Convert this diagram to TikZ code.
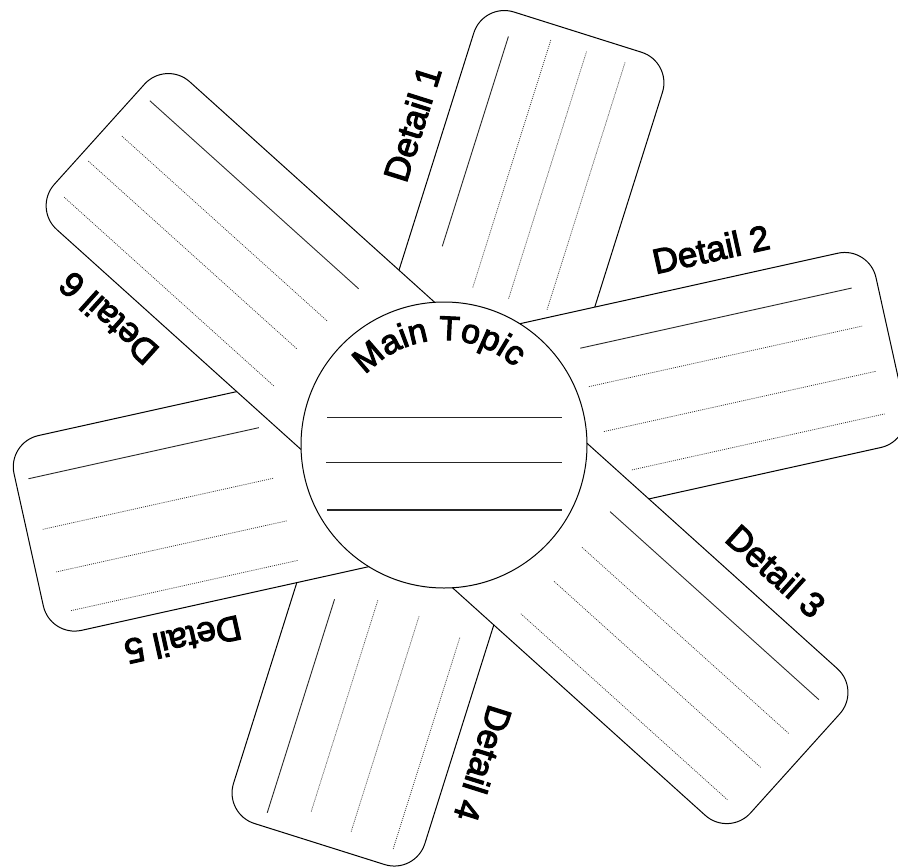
\documentclass[tikz,border=0pt]{standalone}
\usepackage{fontspec}
\setmainfont{Liberation Sans}
\newfontfamily\heavyfont[FakeBold=3]{Liberation Sans}
\usetikzlibrary{decorations.text}
\newcommand{\mtfont}{\heavyfont\fontsize{34}{40}\selectfont}
\tikzset{
  bladebox/.style={draw=black, line width=1pt, fill=white, rounded corners=32pt},
  solidline/.style={draw=black!85, line width=0.9pt},
  dotline/.style={draw=black!80, line width=0.75pt, dash pattern=on 1pt off 1.1pt},
  lbl/.style={font=\heavyfont\fontsize{35}{42}\selectfont, anchor=base, inner sep=0pt},
  circline/.style={draw=black!85, line width=1.1pt},
}
\begin{document}
\begin{tikzpicture}[x=1pt,y=1pt]
\clip (0,0) rectangle (898,-868);
% ---- bar A: Detail 1 and Detail 4
\begin{scope}[shift={(444,-445)}, rotate=72.5]
  \path[bladebox] (0,-102.3) rectangle (434,95.5);
  \draw[solidline] (189,61.4) -- (409,61.4);
  \draw[dotline] (159,19.9) -- (419,19.9);
  \draw[dotline] (159,-17.6) -- (418,-17.6);
  \draw[dotline] (160,-57.6) -- (420,-57.6);
  \node[lbl, rotate=72.5] (d1) at (297,114.5) {Detail 1};
\end{scope}
\begin{scope}[shift={(444,-445)}, rotate=-107.5]
  \path[bladebox] (0,-99) rectangle (418,101.6);
  \draw[solidline] (180,-58) -- (404,-58);
  \draw[dotline] (168,-16.4) -- (390,-16.4);
  \draw[dotline] (171,27.7) -- (397,27.7);
  \draw[dotline] (179,73) -- (401,73);
  \node[lbl, rotate=-107.5] (d4) at (292,120.6) {Detail 4};
\end{scope}
% ---- bar B: Detail 2 and Detail 5
\begin{scope}[shift={(444,-445)}, rotate=12.5]
  \path[bladebox] (0,-97) rectangle (458,102);
  \draw[solidline] (154,65) -- (432,65);
  \draw[dotline] (154,25.6) -- (434,25.6);
  \draw[dotline] (159,-21.5) -- (438,-21.5);
  \draw[dotline] (178,-65) -- (437,-65);
  \node[lbl, rotate=12.5] (d2) at (303,121) {Detail 2};
\end{scope}
\begin{scope}[shift={(444,-445)}, rotate=192.5]
  \path[bladebox] (0,-97) rectangle (426,102.5);
  \draw[solidline] (177,-57) -- (413,-57);
  \draw[dotline] (174,-4.5) -- (410,-4.5);
  \draw[dotline] (170,40) -- (406,40);
  \draw[dotline] (168,81) -- (401,81);
  \node[lbl, rotate=192.5] (d5) at (297,121.5) {Detail 5};
\end{scope}
% ---- bar C: Detail 3 and Detail 6
\begin{scope}[shift={(444,-445)}, rotate=-42]
  \path[bladebox] (0,-100.4) rectangle (474,97);
  \draw[solidline] (168,61.6) -- (449,61.6);
  \draw[dotline] (171,16.3) -- (450,16.3);
  \draw[dotline] (173,-27.7) -- (451,-27.7);
  \draw[dotline] (170,-74) -- (448,-74);
  \node[lbl, rotate=-42] (d3) at (331,116) {Detail 3};
\end{scope}
\begin{scope}[shift={(444,-445)}, rotate=138]
  \path[bladebox] (0,-99.8) rectangle (464,99);
  \draw[solidline] (168,-59) -- (449,-59);
  \draw[dotline] (170,-14) -- (446,-14);
  \draw[dotline] (174,27) -- (455,27);
  \draw[dotline] (166,70) -- (448,70);
  \node[lbl, rotate=138] (d6) at (334,118) {Detail 6};
\end{scope}
% ---- central circle
\node[draw=black, circle, fill=white, line width=1pt, minimum size=286pt, inner sep=0pt] (main) at (444,-445) {};
\draw[circline] (327,-417.7) -- (562,-417.7);
\draw[circline] (326,-462.7) -- (562,-462.7);
\draw[circline] (327,-510) -- (562,-510);
\path[decorate, decoration={text along path, text={|\mtfont|Main Topic}, text align=center}]
  ([shift={(183:105)}]444,-445) arc[start angle=183, end angle=3, radius=105];
\end{tikzpicture}
\end{document}
